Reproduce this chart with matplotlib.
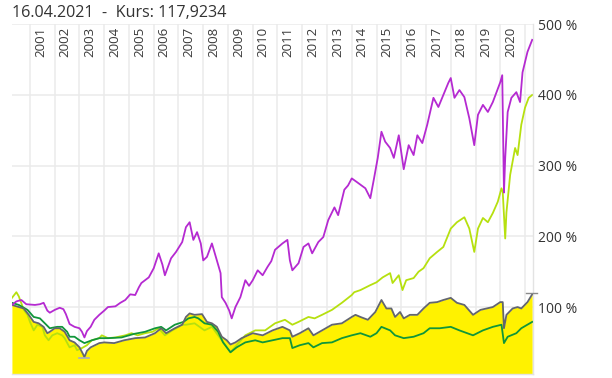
import matplotlib
matplotlib.use("Agg")
import matplotlib.pyplot as plt
import numpy as np

# ---- data (decimal years, percent) ----
purple_x = [2000.27,2000.45,2000.65,2000.85,2001.2,2001.4,2001.55,2001.7,2001.8,2002.0,2002.2,2002.35,2002.45,2002.6,2002.8,2003.0,2003.1,2003.2,2003.3,2003.45,2003.6,2003.8,2004.0,2004.15,2004.45,2004.65,2004.85,2005.05,2005.25,2005.4,2005.5,2005.8,2006.0,2006.2,2006.35,2006.45,2006.7,2006.9,2007.15,2007.3,2007.45,2007.6,2007.75,2007.9,2008.0,2008.15,2008.35,2008.55,2008.7,2008.75,2008.9,2009.05,2009.15,2009.3,2009.5,2009.7,2009.85,2010.0,2010.2,2010.4,2010.6,2010.75,2010.9,2011.2,2011.4,2011.5,2011.6,2011.75,2011.85,2012.05,2012.25,2012.4,2012.65,2012.85,2013.05,2013.3,2013.45,2013.7,2013.85,2014.0,2014.2,2014.55,2014.75,2014.9,2015.05,2015.2,2015.35,2015.55,2015.7,2015.9,2016.1,2016.3,2016.5,2016.65,2016.85,2017.05,2017.3,2017.5,2017.7,2017.9,2018.0,2018.15,2018.35,2018.55,2018.75,2018.95,2019.1,2019.3,2019.5,2019.7,2019.85,2020.0,2020.08,2020.15,2020.2,2020.3,2020.45,2020.65,2020.8,2020.9,2021.1,2021.29]
purple_y = [103,108,110,104,103,104,106,95,92,96,99,97,90,76,72,70,65,57,66,72,82,89,95,100,101,106,110,118,117,128,134,142,155,176,160,145,169,178,192,213,220,195,206,190,166,171,190,166,148,114,106,95,84,100,114,138,130,138,152,145,157,165,181,190,195,166,152,158,162,185,190,176,192,199,223,241,230,266,272,282,277,268,254,282,311,348,334,325,311,343,295,329,315,343,332,358,396,383,400,417,424,396,407,397,367,329,372,386,376,390,404,418,428,262,311,376,396,404,390,432,461,478]

lime_x = [2000.27,2000.45,2000.55,2000.6,2000.75,2000.9,2001.0,2001.15,2001.3,2001.5,2001.6,2001.75,2001.9,2002.1,2002.3,2002.4,2002.6,2002.8,2002.9,2003.1,2003.3,2003.5,2003.8,2003.9,2004.15,2004.45,2004.85,2005.1,2005.35,2005.65,2005.95,2006.2,2006.45,2006.75,2007.15,2007.3,2007.65,2008.05,2008.35,2008.6,2008.9,2009.1,2009.35,2009.7,2010.1,2010.5,2010.9,2011.3,2011.6,2011.85,2012.25,2012.5,2012.8,2013.2,2013.6,2014.0,2014.1,2014.35,2014.75,2015.0,2015.25,2015.55,2015.65,2015.9,2016.05,2016.2,2016.5,2016.7,2016.9,2017.15,2017.45,2017.7,2018.0,2018.25,2018.55,2018.75,2018.95,2019.1,2019.3,2019.5,2019.7,2019.9,2020.05,2020.1,2020.2,2020.25,2020.4,2020.6,2020.7,2020.85,2021.0,2021.15,2021.29]
lime_y = [113,121,115,110,96,89,79,67,75,72,60,53,60,63,60,56,43,46,39,42,46,53,56,60,56,57,60,63,60,63,65,70,60,67,75,75,77,67,72,60,46,36,46,60,67,67,77,82,75,79,86,84,89,96,106,117,121,124,131,135,142,148,134,145,124,138,141,150,155,169,178,185,211,220,227,211,178,211,226,220,233,249,268,263,197,234,287,325,315,358,382,396,400]

gray_x = [2000.27,2000.55,2000.75,2000.95,2001.15,2001.35,2001.55,2001.7,2001.8,2002.0,2002.2,2002.4,2002.6,2002.8,2003.0,2003.15,2003.2,2003.3,2003.45,2003.8,2004.0,2004.4,2004.8,2005.25,2005.65,2006.05,2006.3,2006.5,2006.85,2007.15,2007.3,2007.45,2007.65,2007.95,2008.15,2008.35,2008.55,2008.75,2008.95,2009.1,2009.3,2009.55,2010.0,2010.4,2010.8,2011.2,2011.5,2011.6,2011.9,2012.25,2012.45,2012.8,2013.2,2013.6,2014.0,2014.15,2014.35,2014.65,2014.95,2015.2,2015.4,2015.6,2015.75,2015.95,2016.1,2016.35,2016.65,2016.9,2017.15,2017.45,2017.7,2018.0,2018.25,2018.55,2018.9,2019.2,2019.45,2019.7,2020.0,2020.1,2020.15,2020.25,2020.5,2020.7,2020.85,2021.1,2021.29]
gray_y = [103,100,98,89,79,77,72,63,65,70,70,65,53,50,43,33,29,38,43,49,50,49,53,56,57,63,70,63,70,75,86,91,89,90,79,77,72,58,53,47,50,56,63,60,67,72,67,58,63,70,60,67,75,77,86,89,86,82,93,110,98,98,86,93,84,89,89,98,106,107,110,113,106,103,89,96,98,100,107,107,70,89,98,100,98,107,118]

green_x = [2000.27,2000.55,2000.9,2001.15,2001.4,2001.6,2001.8,2002.1,2002.3,2002.5,2002.6,2002.8,2003.0,2003.2,2003.5,2003.8,2004.15,2004.7,2005.2,2005.65,2006.05,2006.3,2006.5,2006.85,2007.2,2007.4,2007.65,2007.8,2008.05,2008.35,2008.6,2008.8,2009.1,2009.35,2009.7,2010.1,2010.4,2010.8,2011.2,2011.5,2011.6,2011.9,2012.25,2012.45,2012.8,2013.2,2013.6,2014.0,2014.35,2014.75,2015.0,2015.2,2015.55,2015.75,2016.1,2016.5,2016.9,2017.15,2017.55,2018.0,2018.35,2018.9,2019.3,2019.7,2020.05,2020.15,2020.3,2020.65,2020.85,2021.29]
green_y = [106,103,96,86,84,77,70,72,72,65,58,58,53,49,53,56,56,57,62,65,70,72,67,75,79,84,86,84,77,75,65,50,36,43,50,53,50,53,56,56,42,46,49,43,49,50,56,60,63,58,63,72,67,60,56,58,63,70,70,72,67,60,67,72,75,49,58,63,70,79]

years = list(range(2001, 2022))
pct_ticks = [100, 200, 300, 400, 500]
pct_labels = ["100 %", "200 %", "300 %", "400 %", "500 %"]
title = "16.04.2021  -  Kurs: 117,9234"

# ---- figure ----
plt.rcParams['font.family'] = ['Open Sans', 'DejaVu Sans']
W, H = 612, 378
fig = plt.figure(figsize=(W/100, H/100), dpi=100)
top_px, bot_px, left_px, right_px = 24.3, 373.5, 12, 533
ax = fig.add_axes([left_px/W, 1-bot_px/H, (right_px-left_px)/W, (bot_px-top_px)/H])
ax.set_xlim(2000.273, 2021.323)
ax.set_ylim(6, 500)

ax.set_xticks(years)
ax.set_yticks(pct_ticks)
ax.set_yticklabels(pct_labels)
ax.set_xticklabels([])
ax.yaxis.tick_right()
ax.tick_params(axis='both', length=0)
ax.tick_params(axis='y', pad=3.5, labelsize=10, labelcolor='#333333')
ax.grid(True, color='#ebebeb', lw=1.1)
ax.set_axisbelow(True)
for s in ['left', 'top']:
    ax.spines[s].set_visible(False)
for s in ['right', 'bottom']:
    ax.spines[s].set_color('#e3e3e3')
    ax.spines[s].set_linewidth(1.0)

ax.fill_between(gray_x, 0, gray_y, color='#fff200', lw=0, zorder=1)
ax.plot(lime_x, lime_y, color='#b6e00f', lw=1.3, zorder=2)
ax.plot(green_x, green_y, color='#10963a', lw=1.3, zorder=3)
ax.plot(gray_x, gray_y, color='#63666e', lw=1.3, zorder=4)
ax.plot(purple_x, purple_y, color='#b52ad1', lw=1.3, zorder=5)

# min / max markers of the fund line
imin = int(np.argmin(gray_y))
ax.plot([gray_x[imin]-0.2, gray_x[imin]+0.2], [gray_y[imin]-1.5]*2, color='#a7abc4', lw=1.2, zorder=6, clip_on=False)
ax.plot([gray_x[-1]-0.25, gray_x[-1]+0.2], [gray_y[-1]+2]*2, color='#8a8a8a', lw=1.0, zorder=6, clip_on=False)

for yr in years[:-1]:
    ax.text(yr + 0.42, 0.993, str(yr), transform=ax.get_xaxis_transform(), rotation=90,
            ha='center', va='top', fontsize=9.5, color='#3a3a3a', zorder=7)

fig.text(12/W, 1-13/H, title, ha='left', va='center', fontsize=11.6, color='#333333')

fig.savefig('out.png', dpi=100)
